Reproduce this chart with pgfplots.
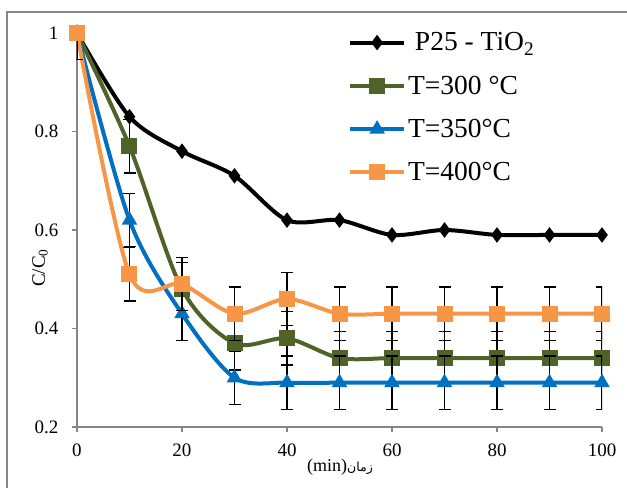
\documentclass[border=0pt]{standalone}
\usepackage{fontspec}
\setmainfont{Liberation Serif}
\newfontfamily\arabicfont[Script=Arabic]{DejaVu Sans}
\TeXXeTstate=1
\usepackage{pgfplots}
\pgfplotsset{compat=1.18}
\definecolor{axgray}{RGB}{134,134,134}
\definecolor{olive}{RGB}{79,98,40}
\definecolor{xlblue}{RGB}{0,112,192}
\definecolor{xlorange}{RGB}{247,150,70}

\begin{document}
\begin{tikzpicture}
\useasboundingbox (-77pt,-61pt) rectangle (550pt,427pt);
% outer chart frame (only top and left visible)
\draw[axgray, line width=1.3pt] (-70pt,-61pt) -- (-70pt,415pt) -- (550pt,415pt);
\begin{axis}[
  scale only axis,
  width=525pt, height=394pt,
  xmin=0, xmax=100, ymin=0.2, ymax=1,
  xtick={0,20,...,100}, ytick={0.2,0.4,...,1.0},
  axis lines*=left,
  axis line style={axgray, line width=1.3pt},
  tick style={axgray, line width=1.3pt},
  tick align=outside, major tick length=5pt,
  /pgf/number format/assume math mode=true,
  ticklabel style={font=\fontsize{19}{22}\selectfont},
  xticklabel style={yshift=-8pt},
  yticklabel style={/pgf/number format/fixed, /pgf/number format/precision=1, xshift=-10pt},
  clip mode=individual,
  every axis plot/.append style={line width=4pt, smooth, tension=0.5},
  legend style={at={(axis cs:51.6,1.005)}, anchor=north west, draw=none, fill=none,
    font=\fontsize{27.5}{30}\selectfont, row sep=19.5pt, inner sep=0pt,
    /tikz/every even column/.append style={column sep=0pt}},
  legend cell align=left,
  legend image code/.code={\draw[mark repeat=2, mark phase=2, #1] plot coordinates {(0pt,0pt) (27pt,0pt) (54pt,0pt)};},
]
\addplot[black, mark=diamond*, mark size=4.5pt] coordinates {
  (0,1) (10,0.83) (20,0.76) (30,0.71) (40,0.62) (50,0.62) (60,0.59) (70,0.60) (80,0.59) (90,0.59) (100,0.59)};
\addlegendentry{\ P25 - TiO\textsubscript{2}}
\addplot[olive, mark=square*, mark size=6pt,
  error bars/.cd, y dir=both, y fixed=0.054,
  error bar style={black, line width=1.3pt, solid},
  error mark options={rotate=90, mark size=6pt, black, line width=1.3pt}] coordinates {
  (0,1) (10,0.77) (20,0.48) (30,0.37) (40,0.38) (50,0.34) (60,0.34) (70,0.34) (80,0.34) (90,0.34) (100,0.34)};
\addlegendentry{T=300 °C}
\addplot[xlblue, mark=triangle*, mark size=5pt,
  error bars/.cd, y dir=both, y fixed=0.054,
  error bar style={black, line width=1.3pt, solid},
  error mark options={rotate=90, mark size=6pt, black, line width=1.3pt}] coordinates {
  (0,1) (10,0.62) (20,0.43) (30,0.30) (40,0.29) (50,0.29) (60,0.29) (70,0.29) (80,0.29) (90,0.29) (100,0.29)};
\addlegendentry{T=350°C}
\addplot[xlorange, mark=square*, mark size=6pt,
  error bars/.cd, y dir=both, y fixed=0.054,
  error bar style={black, line width=1.3pt, solid},
  error mark options={rotate=90, mark size=6pt, black, line width=1.3pt}] coordinates {
  (0,1) (10,0.51) (20,0.49) (30,0.43) (40,0.46) (50,0.43) (60,0.43) (70,0.43) (80,0.43) (90,0.43) (100,0.43)};
\addlegendentry{T=400°C}
\end{axis}
\node[rotate=90, font=\fontsize{19}{22}\selectfont] at (-37pt,159pt) {C/C\textsubscript{0}};
\node[font=\fontsize{18}{22}\selectfont, inner sep=0pt] at (263pt,-40pt) {(min){\arabicfont\fontsize{12.5}{14}\selectfont\beginR زمان\endR}};
\end{tikzpicture}
\end{document}
